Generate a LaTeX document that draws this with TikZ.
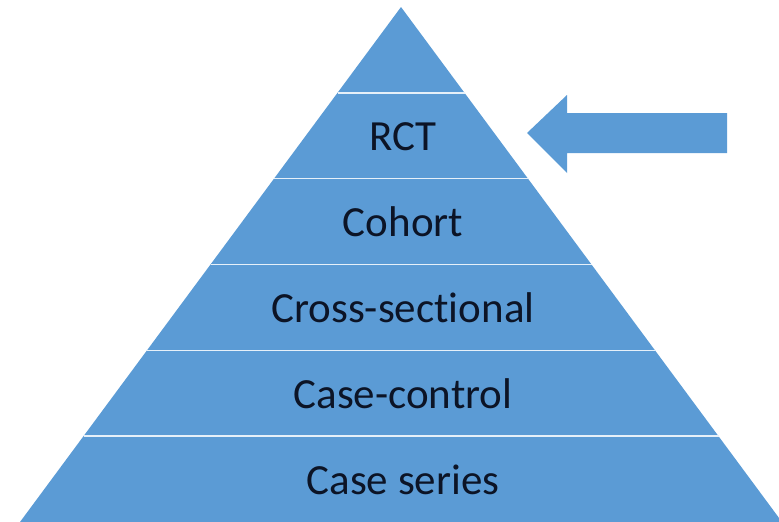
\documentclass[tikz,border=0pt]{standalone}
\usepackage{fontspec}
\setmainfont{Carlito}[Ligatures=NoCommon]
\usepackage{tikz}
\usetikzlibrary{calc}
\definecolor{levelblue}{RGB}{91,155,213}
\definecolor{labelink}{RGB}{12,20,38}
\tikzstyle{level} = [fill=levelblue, draw=none]
\tikzstyle{divider} = [draw=white!85!levelblue, line width=1.6pt]
\tikzstyle{study} = [anchor=base, text=labelink, inner sep=0pt, font={\fontsize{43}{50}\selectfont}]

\begin{document}
\begin{tikzpicture}[x=1pt,y=-1pt]
    \useasboundingbox (0,0) rectangle (779,522);
    \clip (0,0) rectangle (779,522);
    \coordinate (top) at (401,7);
    \coordinate (baseL) at (20,522);
    \coordinate (baseR) at (782,522);
    \fill[level] (top) -- (baseL) -- (baseR) -- cycle;
    \foreach \k in {1,...,5}
        \draw[divider] ($(top)!\k/6!(baseL)$) -- ($(top)!\k/6!(baseR)$);
    \node[study](rct) at (403,150){RCT};
    \node[study](cohort) at (403,236){Cohort};
    \node[study](cross) at (403,322){Cross-sectional};
    \node[study](casecontrol) at (403,408){Case-control};
    \node[study](caseseries) at (403,494){Case series};
    % pointer next to the RCT level
    \fill[level] (527,133) -- (567,95) -- (567,113) -- (727,113)
        -- (727,153) -- (567,153) -- (567,173) -- cycle;
\end{tikzpicture}
\end{document}
